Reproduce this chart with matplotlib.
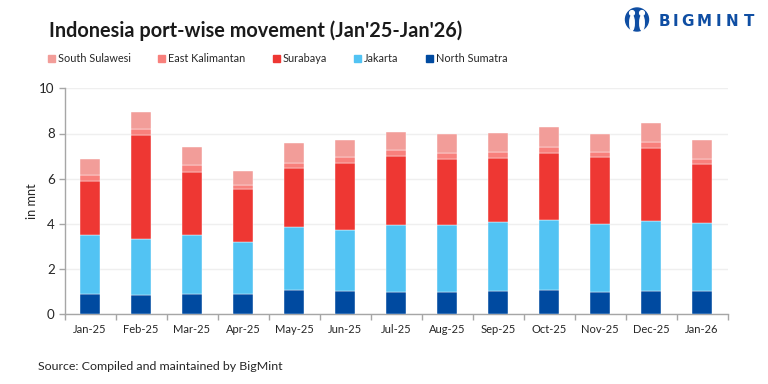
import matplotlib
matplotlib.use("Agg")
import matplotlib.pyplot as plt
from matplotlib.patches import Circle, Ellipse, Patch

months = ["Jan-25", "Feb-25", "Mar-25", "Apr-25", "May-25", "Jun-25", "Jul-25",
          "Aug-25", "Sep-25", "Oct-25", "Nov-25", "Dec-25", "Jan-26"]

north_sumatra = [0.885, 0.855, 0.885, 0.91, 1.06, 1.03, 1.00, 1.00, 1.03, 1.09, 0.97, 1.03, 1.03]
jakarta = [2.625, 2.465, 2.625, 2.29, 2.82, 2.72, 2.97, 2.97, 3.06, 3.08, 3.03, 3.11, 3.03]
surabaya = [2.39, 4.61, 2.80, 2.33, 2.61, 2.93, 3.03, 2.92, 2.83, 2.97, 2.98, 3.23, 2.58]
east_kalimantan = [0.27, 0.27, 0.29, 0.19, 0.22, 0.27, 0.27, 0.25, 0.26, 0.26, 0.22, 0.25, 0.23]
south_sulawesi = [0.72, 0.75, 0.79, 0.61, 0.86, 0.78, 0.81, 0.86, 0.82, 0.90, 0.80, 0.85, 0.86]

names = ["North Sumatra", "Jakarta", "Surabaya", "East Kalimantan", "South Sulawesi"]
colors = ["#004aa0", "#52c3f3", "#ee3733", "#f8807c", "#f29d99"]
series = [north_sumatra, jakarta, surabaya, east_kalimantan, south_sulawesi]

plt.rcParams["font.family"] = ["Lato", "DejaVu Sans"]
text_color = "#262626"
axis_color = "#a6a6a6"

fig = plt.figure(figsize=(7.68, 3.84), dpi=100)
ax = fig.add_axes([64.5 / 768, 1 - 314.3 / 384, 663 / 768, 226 / 384])

bottom = [0] * len(months)
for name, color, vals in zip(names, colors, series):
    ax.bar(months, vals, width=0.4, bottom=bottom, color=color, label=name,
           edgecolor="#ffffff", linewidth=0.3, zorder=3)
    bottom = [b + v for b, v in zip(bottom, vals)]

ax.set_xlim(-0.5, len(months) - 0.5)
ax.set_ylim(0, 10)
ax.set_yticks([0, 2, 4, 6, 8, 10])
ax.grid(axis="y", color="#efefef", linewidth=1, zorder=0)
ax.set_axisbelow(True)
for side in ["top", "right"]:
    ax.spines[side].set_visible(False)
for side in ["left", "bottom"]:
    ax.spines[side].set_color(axis_color)
    ax.spines[side].set_linewidth(1)

# ticks sit between the categories, labels stay centred
ax.set_xticks([i - 0.5 for i in range(len(months) + 1)])
ax.set_xticklabels([])
ax.set_xticks(range(len(months)), months, minor=True)
ax.tick_params(axis="x", which="major", length=4, color=axis_color, width=1)
ax.tick_params(axis="x", which="minor", length=0, pad=7, labelsize=8, labelcolor=text_color)
ax.tick_params(axis="y", length=4, color=axis_color, width=1, pad=3, labelsize=9.6, labelcolor=text_color)
ax.set_ylabel("in mnt", fontsize=9.2, color=text_color, labelpad=1)

fig.text(49 / 768, 1 - 31 / 384, "Indonesia port-wise movement (Jan'25-Jan'26)",
         fontsize=14.3, fontweight="bold", color="#1a1a1a", va="center")
fig.text(38 / 768, 1 - 367 / 384, "Source: Compiled and maintained by BigMint",
         fontsize=8.95, color=text_color, va="center")

handles = [Patch(color=c, label=n) for c, n in zip(colors[::-1], names[::-1])]
fig.legend(handles=handles, loc="center left", bbox_to_anchor=(48 / 768, 1 - 59 / 384),
           ncol=5, frameon=False, fontsize=7.8, labelcolor=text_color,
           handlelength=0.65, handleheight=0.65, handletextpad=0.28, columnspacing=2.5,
           borderpad=0, borderaxespad=0)

# logo
logo = fig.add_axes([0, 0, 1, 1], facecolor="none")
logo.set_xlim(0, 768)
logo.set_ylim(384, 0)
logo.axis("off")
blue = "#0f4ea3"
logo.add_patch(Circle((637, 19.5), 11.5, color=blue))
logo.add_patch(Ellipse((632, 23), 4.5, 15, color="white"))
logo.add_patch(Ellipse((642, 23), 4.5, 15, color="white"))
logo.add_patch(Circle((632, 13), 2.4, color="white"))
logo.add_patch(Circle((642, 13), 2.4, color="white"))
for letter, x in zip("BIGMINT", [664, 675, 687, 704, 718, 732, 749]):
    logo.text(x, 21.5, letter, fontsize=10.9, fontweight="bold", color=blue,
              ha="center", va="center", family=["DejaVu Sans"])

fig.savefig("out.png", dpi=100)
